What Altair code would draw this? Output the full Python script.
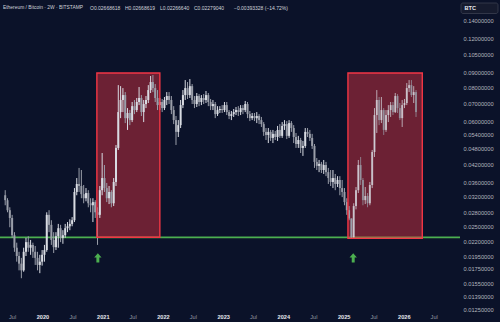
import altair as alt
import pandas as pd

# ---------------- data (ETH/BTC, 2W candles) ----------------
first_open = 0.0324
closes = [
    0.0311, 0.0286, 0.0268, 0.0232, 0.0209, 0.0195, 0.0183, 0.0173, 0.0202, 0.0219,
    0.0209, 0.0214, 0.0202, 0.0192, 0.0181, 0.0186, 0.0197, 0.0205, 0.0275, 0.0253,
    0.0223, 0.0210, 0.0230, 0.0246, 0.0227, 0.0232, 0.0246, 0.0250, 0.0255, 0.0263,
    0.0333, 0.0356, 0.0350, 0.0327, 0.0316, 0.0330, 0.0303, 0.0298, 0.0306, 0.0281,
    0.0275, 0.0338, 0.0374, 0.0344, 0.0316, 0.0333, 0.0303, 0.0362, 0.0481, 0.0649,
    0.0718, 0.0748, 0.0617, 0.0644, 0.0607, 0.0682, 0.0660, 0.0706, 0.0730, 0.0649,
    0.0694, 0.0718, 0.0780, 0.0834, 0.0793, 0.0730, 0.0688, 0.0706, 0.0671, 0.0718,
    0.0742, 0.0718, 0.0660, 0.0607, 0.0550, 0.0582, 0.0688, 0.0748, 0.0793, 0.0748,
    0.0806, 0.0718, 0.0694, 0.0742, 0.0706, 0.0730, 0.0718, 0.0748, 0.0706, 0.0682,
    0.0694, 0.0638, 0.0660, 0.0666, 0.0660, 0.0688, 0.0649, 0.0628, 0.0638, 0.0649,
    0.0660, 0.0649, 0.0671, 0.0660, 0.0694, 0.0638, 0.0617, 0.0628, 0.0617, 0.0628,
    0.0607, 0.0587, 0.0550, 0.0536, 0.0550, 0.0523, 0.0541, 0.0527, 0.0559, 0.0532,
    0.0578, 0.0587, 0.0532, 0.0592, 0.0568, 0.0527, 0.0497, 0.0514, 0.0481, 0.0489,
    0.0550, 0.0541, 0.0523, 0.0489, 0.0428, 0.0414, 0.0421, 0.0400, 0.0417, 0.0393,
    0.0374, 0.0362, 0.0374, 0.0356, 0.0368, 0.0344, 0.0333, 0.0306, 0.0286, 0.02668618,
    0.0227904,
    0.0296, 0.0338, 0.0417, 0.0368, 0.0311, 0.0322, 0.0303, 0.0353, 0.0465,
    0.0633, 0.0718, 0.0607, 0.0660, 0.0559, 0.0633, 0.0660, 0.0688, 0.0649, 0.0742,
    0.0671, 0.0617, 0.0688, 0.0700, 0.0793, 0.0813, 0.0748, 0.0767, 0.0649,
]
highs = [
    0.0338, 0.0316, 0.0293, 0.0275, 0.0238, 0.0218, 0.0202, 0.0192, 0.0209, 0.0227,
    0.0230, 0.0223, 0.0218, 0.0212, 0.0202, 0.0197, 0.0205, 0.0214, 0.0281, 0.0286,
    0.0263, 0.0238, 0.0238, 0.0255, 0.0253, 0.0242, 0.0255, 0.0259, 0.0265, 0.0270,
    0.0344, 0.0374, 0.0407, 0.0400, 0.0353, 0.0344, 0.0338, 0.0316, 0.0316, 0.0311,
    0.0293, 0.0350, 0.0461, 0.0417, 0.0359, 0.0350, 0.0338, 0.0374, 0.0493, 0.0813,
    0.0806, 0.0793, 0.0767, 0.0671, 0.0660, 0.0706, 0.0718, 0.0730, 0.0800, 0.0748,
    0.0718, 0.0742, 0.0813, 0.0877, 0.0884, 0.0820, 0.0780, 0.0730, 0.0724, 0.0736,
    0.0767, 0.0767, 0.0742, 0.0682, 0.0628, 0.0607, 0.0718, 0.0780, 0.0848, 0.0834,
    0.0855, 0.0820, 0.0742, 0.0761, 0.0754, 0.0748, 0.0754, 0.0774, 0.0761, 0.0724,
    0.0718, 0.0706, 0.0682, 0.0682, 0.0688, 0.0706, 0.0706, 0.0660, 0.0655, 0.0666,
    0.0677, 0.0682, 0.0688, 0.0688, 0.0712, 0.0706, 0.0655, 0.0644, 0.0644, 0.0649,
    0.0638, 0.0623, 0.0597, 0.0568, 0.0568, 0.0559, 0.0559, 0.0554, 0.0578, 0.0587,
    0.0597, 0.0607, 0.0602, 0.0607, 0.0602, 0.0582, 0.0545, 0.0532, 0.0523, 0.0510,
    0.0568, 0.0568, 0.0559, 0.0541, 0.0497, 0.0442, 0.0435, 0.0428, 0.0435, 0.0428,
    0.0407, 0.0400, 0.0400, 0.0387, 0.0380, 0.0380, 0.0368, 0.0344, 0.0316, 0.0296,
    0.02668619,
    0.0303, 0.0347, 0.0435, 0.0446, 0.0374, 0.0347, 0.0330, 0.0362, 0.0473,
    0.0671, 0.0780, 0.0736, 0.0736, 0.0671, 0.0660, 0.0688, 0.0706, 0.0706, 0.0761,
    0.0754, 0.0700, 0.0718, 0.0724, 0.0827, 0.0848, 0.0848, 0.0806, 0.0780,
]
lows = [
    0.0298, 0.0281, 0.0248, 0.0227, 0.0202, 0.0186, 0.0173, 0.0162, 0.0171, 0.0195,
    0.0202, 0.0197, 0.0192, 0.0181, 0.0173, 0.0169, 0.0180, 0.0186, 0.0202, 0.0238,
    0.0214, 0.0200, 0.0205, 0.0209, 0.0219, 0.0216, 0.0227, 0.0238, 0.0242, 0.0250,
    0.0259, 0.0324, 0.0333, 0.0316, 0.0303, 0.0308, 0.0293, 0.0281, 0.0259, 0.0268,
    0.0214, 0.0268, 0.0324, 0.0333, 0.0306, 0.0301, 0.0293, 0.0296, 0.0350, 0.0473,
    0.0617, 0.0649, 0.0592, 0.0559, 0.0582, 0.0597, 0.0638, 0.0649, 0.0688, 0.0628,
    0.0597, 0.0671, 0.0700, 0.0761, 0.0767, 0.0706, 0.0660, 0.0660, 0.0649, 0.0660,
    0.0688, 0.0694, 0.0638, 0.0587, 0.0493, 0.0527, 0.0568, 0.0671, 0.0718, 0.0724,
    0.0730, 0.0694, 0.0671, 0.0677, 0.0682, 0.0688, 0.0694, 0.0700, 0.0682, 0.0660,
    0.0660, 0.0617, 0.0628, 0.0644, 0.0644, 0.0649, 0.0633, 0.0612, 0.0607, 0.0623,
    0.0633, 0.0628, 0.0633, 0.0638, 0.0649, 0.0617, 0.0602, 0.0607, 0.0602, 0.0592,
    0.0587, 0.0573, 0.0532, 0.0514, 0.0501, 0.0510, 0.0501, 0.0514, 0.0510, 0.0523,
    0.0523, 0.0559, 0.0518, 0.0523, 0.0550, 0.0501, 0.0481, 0.0481, 0.0461, 0.0450,
    0.0481, 0.0527, 0.0510, 0.0477, 0.0407, 0.0400, 0.0393, 0.0390, 0.0387, 0.0380,
    0.0356, 0.0350, 0.0344, 0.0338, 0.0347, 0.0324, 0.0319, 0.0298, 0.0275, 0.0263,
    0.0226664,
    0.02275, 0.0288, 0.0330, 0.0353, 0.0298, 0.0301, 0.0293, 0.0298, 0.0344,
    0.0446, 0.0545, 0.0582, 0.0592, 0.0536, 0.0550, 0.0597, 0.0623, 0.0633, 0.0644,
    0.0644, 0.0607, 0.0573, 0.0671, 0.0688, 0.0767, 0.0736, 0.0700, 0.0623,
]
first_bar_date = "2019-05-20"
projection_start = "2025-03-03"  # candles from here on are a projected bar pattern

support_level = 0.0227904
box_starts = ["2020-11-26", "2025-01-27"]
box_ends = ["2021-12-13", "2026-04-23"]
box_tops = [0.0899, 0.0899]
box_bottoms = [0.0228, 0.0226]
arrow_dates = ["2020-12-02", "2025-02-28"]
arrow_prices = [0.0192, 0.0192]

price_ticks = [0.14, 0.12, 0.105, 0.09, 0.08, 0.07, 0.06, 0.054, 0.048, 0.042, 0.036,
               0.032, 0.028, 0.025, 0.022, 0.0195, 0.0175, 0.0155, 0.0139, 0.0125]
header_title = "Ethereum / Bitcoin \u00b7 2W \u00b7 BITSTAMP"
header_values = ["O0.02668618", "H0.02668619", "L0.02266640", "C0.02279040",
                 "\u22120.00393328 (\u221214.72%)"]
header_x = [90, 125, 160, 194, 234]

# ---------------- tables ----------------
dates = pd.date_range(first_bar_date, periods=len(closes), freq="14D")
opens = [first_open] + closes[:-1]
df = pd.DataFrame({
    "date": dates.strftime("%Y-%m-%d"),
    "open": opens, "high": highs, "low": lows, "close": closes,
})
df["dir"] = ["up" if c >= o else "down" for o, c in zip(df.open, df.close)]
df["kind"] = ["proj" if d >= pd.Timestamp(projection_start) else "real" for d in dates]

boxes = pd.DataFrame({"start": box_starts, "end": box_ends, "top": box_tops, "bottom": box_bottoms})
arrows = pd.DataFrame({"date": arrow_dates, "price": arrow_prices})
level = pd.DataFrame({"price": [support_level]})

def ms(s):
    return int(pd.Timestamp(s, tz="UTC").value // 10**6)

x_domain = [ms("2019-05-18 18:00"), ms("2026-11-07 10:00")]
x_ticks = []
for yr in range(2019, 2027):
    if yr > 2019:
        x_ticks.append(ms(f"{yr}-01-01"))
    x_ticks.append(ms(f"{yr}-07-01"))

BG = "#0b1229"
FONT = "Liberation Sans"

xscale = alt.Scale(type="utc", domain=x_domain)
yscale = alt.Scale(type="log", domain=[0.01232, 0.1655], nice=False, zero=False)

xaxis = alt.Axis(
    values=x_ticks, title=None, grid=False, domain=False, ticks=False, labelPadding=3,
    labelExpr="utcmonth(datum.value) == 0 ? utcFormat(datum.value, '%Y') : 'Jul'",
    labelFontSize=5.6, labelFont=FONT, labelOverlap=False, labelFlush=False,
    labelColor={"condition": {"test": "utcmonth(datum.value) == 0", "value": "#e6e8ee"}, "value": "#9598a1"},
    labelFontWeight={"condition": {"test": "utcmonth(datum.value) == 0", "value": "bold"}, "value": "normal"},
)
yaxis = alt.Axis(
    orient="right", values=price_ticks, format=".8f", title=None, grid=False,
    domain=False, ticks=False, labelPadding=3, labelFontSize=5.7, labelFont=FONT,
    labelColor="#b2b5be", labelOverlap=False,
)

X = alt.X("date:T", scale=xscale, axis=xaxis)

line = alt.Chart(level).mark_rule(color="#4caf50", strokeWidth=1.6).encode(
    y=alt.Y("price:Q", scale=yscale, axis=yaxis)
)

fill = alt.Chart(boxes).mark_rect(fill="#f23645", fillOpacity=0.42, strokeOpacity=0).encode(
    x=alt.X("start:T", scale=xscale, axis=xaxis), x2="end:T",
    y=alt.Y("top:Q", scale=yscale, axis=yaxis), y2="bottom:Q",
)
border = alt.Chart(boxes).mark_rect(filled=False, stroke="#f23645", strokeWidth=1.4).encode(
    x=alt.X("start:T", scale=xscale, axis=xaxis), x2="end:T",
    y=alt.Y("top:Q", scale=yscale, axis=yaxis), y2="bottom:Q",
)

opac = alt.Opacity("kind:N", scale=alt.Scale(domain=["real", "proj"], range=[1.0, 0.72]), legend=None)

wicks = alt.Chart(df).mark_rule(strokeWidth=1).encode(
    x=X, y=alt.Y("low:Q", scale=yscale, axis=yaxis), y2="high:Q",
    color=alt.Color("dir:N", scale=alt.Scale(domain=["up", "down"], range=["#d8dbe2", "#9a9ea9"]), legend=None),
    opacity=opac,
)
bodies = alt.Chart(df).mark_bar(size=2.0).encode(
    x=X, y=alt.Y("open:Q", scale=yscale, axis=yaxis), y2="close:Q",
    color=alt.Color("dir:N", scale=alt.Scale(domain=["up", "down"], range=["#ffffff", "#b8bcc6"]), legend=None),
    opacity=opac,
)

arrow_shape = "M0,-1 L0.8,-0.1 L0.32,-0.1 L0.32,1 L-0.32,1 L-0.32,-0.1 L-0.8,-0.1 Z"
arrow_pts = alt.Chart(arrows).mark_point(shape=arrow_shape, size=85, filled=True,
                                          color="#4caf50", opacity=1).encode(
    x=alt.X("date:T", scale=xscale, axis=xaxis),
    y=alt.Y("price:Q", scale=yscale, axis=yaxis),
)

head_layers = [
    alt.Chart(pd.DataFrame({"t": [header_title]})).mark_text(
        align="left", baseline="middle", fontSize=4.9, font=FONT, color="#d1d4dc"
    ).encode(x=alt.value(3), y=alt.value(8), text="t:N")
]
for txt, hx in zip(header_values, header_x):
    head_layers.append(
        alt.Chart(pd.DataFrame({"t": [txt]})).mark_text(
            align="left", baseline="middle", fontSize=5.0, font=FONT, color="#d1d4dc"
        ).encode(x=alt.value(hx), y=alt.value(8), text="t:N")
    )

btc_box = alt.Chart(pd.DataFrame({"t": ["BTC"]})).mark_rect(
    fill="#161b2e", stroke="#3a3f50", strokeWidth=0.8, cornerRadius=2
).encode(x=alt.value(461), x2=alt.value(498), y=alt.value(3), y2=alt.value(13.5))
btc_txt = alt.Chart(pd.DataFrame({"t": ["BTC"]})).mark_text(
    align="left", baseline="middle", fontSize=5.6, font=FONT, color="#e6e8ee", fontWeight="bold"
).encode(x=alt.value(464.5), y=alt.value(8.3), text="t:N")

chart = alt.layer(line, fill, wicks, bodies, border, arrow_pts, *head_layers, btc_box, btc_txt).properties(
    width=460, height=311,
    padding={"left": 0, "top": 0, "right": 40, "bottom": 11},
    autosize=alt.AutoSizeParams(type="none"),
    background=BG,
).configure_view(stroke=None)

chart.save("out.html", embed_options={"renderer": "svg", "actions": False})
